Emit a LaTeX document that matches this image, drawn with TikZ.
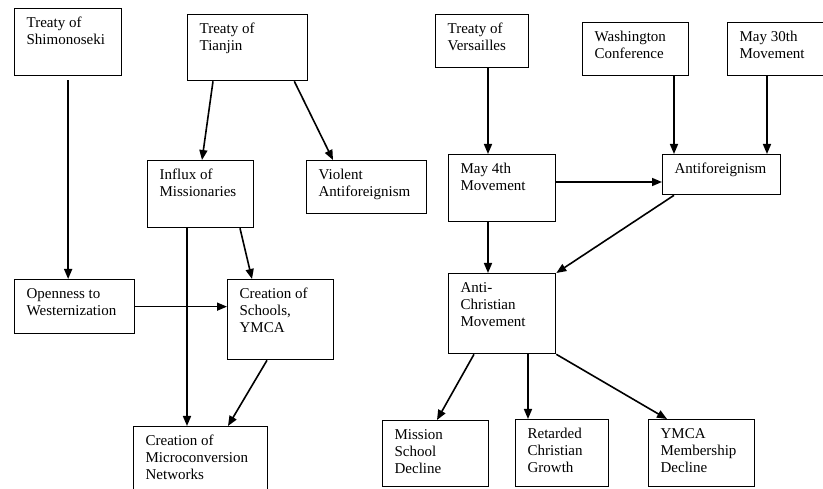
\documentclass[tikz,border=0pt]{standalone}
\usepackage{fontspec}
\setmainfont{Liberation Serif}
\usepackage{tikz}
\usetikzlibrary{calc,arrows.meta,positioning}
\newcommand{\evtext}[3]{\parbox[c][#2][t]{#1}{\raggedright\leftskip=12pt\rule{0pt}{18.5pt}#3}}

\begin{document}
\begin{tikzpicture}[x=1pt, y=-1pt,
    event/.style={draw, line width=1.3pt, inner sep=0pt, anchor=north west,
      font=\fontsize{15}{17}\selectfont},
    arr/.style={line width=1.6pt, -{Triangle[length=10pt,width=8pt]}}]
          \useasboundingbox (0,0) rectangle (823,489);

          % left half
          \node[event] (shim) at (14,8) {\evtext{107pt}{67pt}{Treaty of\\Shimonoseki}};
          \node[event] (tianjin) at (187,14) {\evtext{120pt}{66pt}{Treaty of\\Tianjin}};
          \node[event] (influx) at (147,160) {\evtext{106pt}{67pt}{Influx of\\Missionaries}};
          \node[event] (violent) at (306,160) {\evtext{120pt}{53pt}{Violent\\Antiforeignism}};
          \node[event] (open) at (14,279) {\evtext{120pt}{54pt}{Openness to\\Westernization}};
          \node[event] (schools) at (227,279) {\evtext{106pt}{80pt}{Creation of\\Schools,\\YMCA}};
          \node[event] (micro) at (133,426) {\evtext{134pt}{72pt}{Creation of\\Microconversion\\Networks}};

          % right half
          \node[event] (versailles) at (435,14) {\evtext{93pt}{53pt}{Treaty of\\Versailles}};
          \node[event] (wash) at (582,22) {\evtext{106pt}{53pt}{Washington\\Conference}};
          \node[event] (may30) at (727,22) {\evtext{106pt}{53pt}{May 30th\\Movement}};
          \node[event] (may4) at (448,154) {\evtext{107pt}{67pt}{May 4th\\Movement}};
          \node[event] (anti) at (662,154) {\evtext{118pt}{40pt}{Antiforeignism}};
          \node[event] (antichr) at (448,273) {\evtext{107pt}{80pt}{Anti-\\Christian\\Movement}};
          \node[event] (mission) at (382,420) {\evtext{106pt}{66pt}{Mission\\School\\Decline}};
          \node[event] (retarded) at (515,419) {\evtext{93pt}{67pt}{Retarded\\Christian\\Growth}};
          \node[event] (ymca) at (648,419) {\evtext{106pt}{67pt}{YMCA\\Membership\\Decline}};

          \draw[arr, shorten <=4pt] (shim.south) -- (shim.south |- open.north);
          \draw[arr] ($(tianjin.south west)+(26,0)$) -- ($(influx.north west)+(55,0)$);
          \draw[arr] ($(tianjin.south east)+(-14,0)$) -- ($(violent.north west)+(27,0)$);
          \draw[arr] ($(influx.south west)+(40,0)$) -- ($(micro.north west)+(54,0)$);
          \draw[arr] ($(influx.south west)+(93,0)$) -- ($(schools.north west)+(25,0)$);
          \draw[arr] (open.east) -- (open.east -| schools.west);
          \draw[arr] ($(schools.south west)+(40,0)$) -- ($(micro.north west)+(95,0)$);

          \draw[arr] ($(versailles.south west)+(53,0)$) -- ($(may4.north west)+(40,0)$);
          \draw[arr] ($(wash.south west)+(92,0)$) -- ($(anti.north west)+(12,0)$);
          \draw[arr] ($(may30.south west)+(40,0)$) -- ($(anti.north west)+(105,0)$);
          \draw[arr] ($(may4.north east)+(0,28)$) -- ($(anti.north west)+(0,28)$);
          \draw[arr] ($(anti.south west)+(12,0)$) -- (antichr.north east);
          \draw[arr] ($(may4.south west)+(40,0)$) -- ($(antichr.north west)+(40,0)$);
          \draw[arr] ($(antichr.south west)+(26,0)$) -- ($(mission.north west)+(55,0)$);
          \draw[arr] ($(antichr.south west)+(80,0)$) -- ($(retarded.north west)+(13,0)$);
          \draw[arr] (antichr.south east) -- ($(ymca.north west)+(19,0)$);
        \end{tikzpicture}
\end{document}
